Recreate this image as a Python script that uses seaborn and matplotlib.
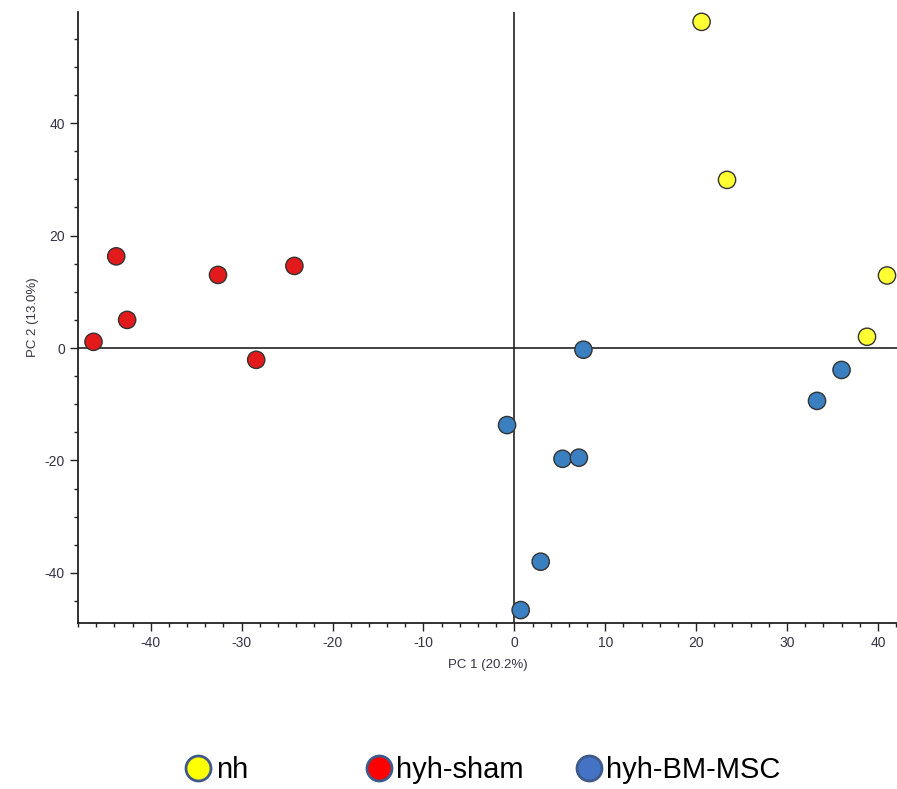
import pandas as pd
import matplotlib.pyplot as plt
import seaborn as sns
from matplotlib.lines import Line2D
from matplotlib.ticker import MultipleLocator

# NOTE: PCA scores
groups = ['nh', 'hyh-sham', 'hyh-BM-MSC']

nh_pc1 = [20.6, 23.4, 41.0, 38.8]
nh_pc2 = [58.0, 29.9, 12.9, 2.0]

sham_pc1 = [-46.3, -43.8, -42.6, -32.6, -28.4, -24.2]
sham_pc2 = [1.1, 16.3, 5.0, 13.0, -2.1, 14.6]

msc_pc1 = [7.6, -0.8, 5.3, 7.1, 2.9, 0.7, 33.3, 36.0]
msc_pc2 = [-0.3, -13.7, -19.7, -19.5, -38.0, -46.6, -9.4, -3.9]

df = pd.DataFrame({
    'PC1': nh_pc1 + sham_pc1 + msc_pc1,
    'PC2': nh_pc2 + sham_pc2 + msc_pc2,
    'group': ['nh'] * len(nh_pc1) + ['hyh-sham'] * len(sham_pc1) + ['hyh-BM-MSC'] * len(msc_pc1),
})

point_colors = {'nh': '#ffff33', 'hyh-sham': '#e31a1c', 'hyh-BM-MSC': '#3a7fc0'}
legend_colors = {'nh': '#ffff00', 'hyh-sham': '#ff0000', 'hyh-BM-MSC': '#4472c4'}

sns.set_style('white')
plt.rcParams['font.family'] = ['Liberation Sans', 'DejaVu Sans']
plt.rcParams['axes.unicode_minus'] = False

fig = plt.figure(figsize=(8.97, 7.89), dpi=100)
ax = fig.add_axes([0.087, 0.2104, 0.913, 0.774])

ax.axhline(0, color='#222222', lw=1.2, zorder=1)
ax.axvline(0, color='#222222', lw=1.2, zorder=1)

sns.scatterplot(data=df, x='PC1', y='PC2', hue='group', hue_order=groups,
                palette=point_colors, s=155, edgecolor='#333333', linewidth=1.0,
                legend=False, ax=ax, zorder=3)

ax.set_xlim(-48, 42.1)
ax.set_ylim(-48.9, 59.7)
ax.xaxis.set_major_locator(MultipleLocator(10))
ax.xaxis.set_minor_locator(MultipleLocator(2))
ax.yaxis.set_major_locator(MultipleLocator(20))
ax.yaxis.set_minor_locator(MultipleLocator(5))
ax.tick_params(which='major', length=6, width=1, color='#222222', labelsize=10, labelcolor='#333344', direction='out')
ax.tick_params(which='minor', length=3, width=1, color='#222222', direction='out')
ax.tick_params(axis='both', which='both', bottom=True, left=True)

sns.despine(ax=ax)
for side in ['left', 'bottom']:
    ax.spines[side].set_color('#222222')
    ax.spines[side].set_linewidth(1.3)

ax.set_xlabel('PC 1 (20.2%)', fontsize=9.5, color='#333344', labelpad=6)
ax.set_ylabel('PC 2 (13.0%)', fontsize=9.5, color='#333344', labelpad=4)

# NOTE: legend entries placed one by one, the spacing is uneven
legend_x = [0.205, 0.406, 0.64]
for g, lx in zip(groups, legend_x):
    h = Line2D([], [], marker='o', linestyle='', markersize=18,
               markerfacecolor=legend_colors[g], markeredgecolor='#3f5a8a', markeredgewidth=2)
    leg = fig.legend(handles=[h], labels=[g], loc='center left', bbox_to_anchor=(lx, 0.024),
                     frameon=False, fontsize=21, handletextpad=0.1, borderaxespad=0, borderpad=0,
                     handlelength=1.0)
    for t in leg.get_texts():
        t.set_color('black')

plt.savefig('out.png', dpi=100)
